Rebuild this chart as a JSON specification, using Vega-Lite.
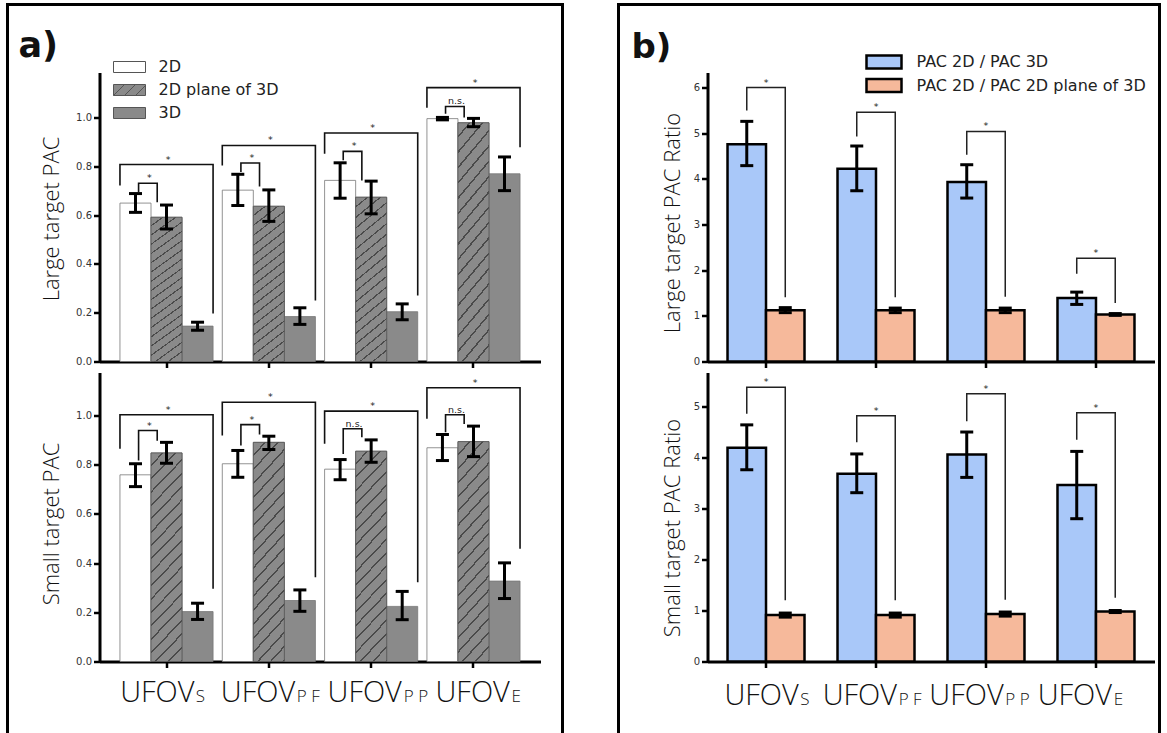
{
  "$schema": "https://vega.github.io/schema/vega-lite/v6.json",
  "background": "white",
  "padding": {"left": 5.5, "top": 2.5, "right": 0, "bottom": 0},
  "spacing": 52,
  "datasets": {
    "a_bars": [
      {"plot": "top", "grp": "S", "cond": "2D", "v": 0.649, "lo": 0.611, "hi": 0.688},
      {"plot": "top", "grp": "S", "cond": "2D plane of 3D", "v": 0.591, "lo": 0.543, "hi": 0.641},
      {"plot": "top", "grp": "S", "cond": "3D", "v": 0.145, "lo": 0.128, "hi": 0.161},
      {"plot": "top", "grp": "PF", "cond": "2D", "v": 0.702, "lo": 0.639, "hi": 0.767},
      {"plot": "top", "grp": "PF", "cond": "2D plane of 3D", "v": 0.636, "lo": 0.574, "hi": 0.703},
      {"plot": "top", "grp": "PF", "cond": "3D", "v": 0.184, "lo": 0.152, "hi": 0.22},
      {"plot": "top", "grp": "PP", "cond": "2D", "v": 0.742, "lo": 0.669, "hi": 0.814},
      {"plot": "top", "grp": "PP", "cond": "2D plane of 3D", "v": 0.673, "lo": 0.605, "hi": 0.739},
      {"plot": "top", "grp": "PP", "cond": "3D", "v": 0.204, "lo": 0.171, "hi": 0.236},
      {"plot": "top", "grp": "E", "cond": "2D", "v": 0.995, "lo": 0.99, "hi": 1.0},
      {"plot": "top", "grp": "E", "cond": "2D plane of 3D", "v": 0.978, "lo": 0.962, "hi": 0.996},
      {"plot": "top", "grp": "E", "cond": "3D", "v": 0.769, "lo": 0.7, "hi": 0.838},
      {"plot": "bot", "grp": "S", "cond": "2D", "v": 0.759, "lo": 0.711, "hi": 0.804},
      {"plot": "bot", "grp": "S", "cond": "2D plane of 3D", "v": 0.848, "lo": 0.806, "hi": 0.891},
      {"plot": "bot", "grp": "S", "cond": "3D", "v": 0.203, "lo": 0.171, "hi": 0.237},
      {"plot": "bot", "grp": "PF", "cond": "2D", "v": 0.804, "lo": 0.749, "hi": 0.858},
      {"plot": "bot", "grp": "PF", "cond": "2D plane of 3D", "v": 0.891, "lo": 0.862, "hi": 0.916},
      {"plot": "bot", "grp": "PF", "cond": "3D", "v": 0.248, "lo": 0.204, "hi": 0.291},
      {"plot": "bot", "grp": "PP", "cond": "2D", "v": 0.782, "lo": 0.739, "hi": 0.821},
      {"plot": "bot", "grp": "PP", "cond": "2D plane of 3D", "v": 0.855, "lo": 0.81, "hi": 0.901},
      {"plot": "bot", "grp": "PP", "cond": "3D", "v": 0.224, "lo": 0.17, "hi": 0.285},
      {"plot": "bot", "grp": "E", "cond": "2D", "v": 0.869, "lo": 0.817, "hi": 0.923},
      {"plot": "bot", "grp": "E", "cond": "2D plane of 3D", "v": 0.894, "lo": 0.833, "hi": 0.957},
      {"plot": "bot", "grp": "E", "cond": "3D", "v": 0.327, "lo": 0.256, "hi": 0.401}
    ],
    "a_br": [
      {"plot": "top", "id": "tSi", "grp": "S", "slot": "2Db", "pt": 1, "y": 0.693},
      {"plot": "top", "id": "tSi", "grp": "S", "slot": "2Db", "pt": 2, "y": 0.73},
      {"plot": "top", "id": "tSi", "grp": "S", "slot": "Pa", "pt": 3, "y": 0.73},
      {"plot": "top", "id": "tSi", "grp": "S", "slot": "Pa", "pt": 4, "y": 0.652},
      {"plot": "top", "id": "tSo", "grp": "S", "slot": "2Da", "pt": 1, "y": 0.721},
      {"plot": "top", "id": "tSo", "grp": "S", "slot": "2Da", "pt": 2, "y": 0.807},
      {"plot": "top", "id": "tSo", "grp": "S", "slot": "3Db", "pt": 3, "y": 0.807},
      {"plot": "top", "id": "tSo", "grp": "S", "slot": "3Db", "pt": 4, "y": 0.197},
      {"plot": "top", "id": "tFi", "grp": "PF", "slot": "2Db", "pt": 1, "y": 0.776},
      {"plot": "top", "id": "tFi", "grp": "PF", "slot": "2Db", "pt": 2, "y": 0.813},
      {"plot": "top", "id": "tFi", "grp": "PF", "slot": "Pa", "pt": 3, "y": 0.813},
      {"plot": "top", "id": "tFi", "grp": "PF", "slot": "Pa", "pt": 4, "y": 0.717},
      {"plot": "top", "id": "tFo", "grp": "PF", "slot": "2Da", "pt": 1, "y": 0.803},
      {"plot": "top", "id": "tFo", "grp": "PF", "slot": "2Da", "pt": 2, "y": 0.885},
      {"plot": "top", "id": "tFo", "grp": "PF", "slot": "3Db", "pt": 3, "y": 0.885},
      {"plot": "top", "id": "tFo", "grp": "PF", "slot": "3Db", "pt": 4, "y": 0.25},
      {"plot": "top", "id": "tPi", "grp": "PP", "slot": "2Db", "pt": 1, "y": 0.824},
      {"plot": "top", "id": "tPi", "grp": "PP", "slot": "2Db", "pt": 2, "y": 0.861},
      {"plot": "top", "id": "tPi", "grp": "PP", "slot": "Pa", "pt": 3, "y": 0.861},
      {"plot": "top", "id": "tPi", "grp": "PP", "slot": "Pa", "pt": 4, "y": 0.742},
      {"plot": "top", "id": "tPo", "grp": "PP", "slot": "2Da", "pt": 1, "y": 0.851},
      {"plot": "top", "id": "tPo", "grp": "PP", "slot": "2Da", "pt": 2, "y": 0.936},
      {"plot": "top", "id": "tPo", "grp": "PP", "slot": "3Db", "pt": 3, "y": 0.936},
      {"plot": "top", "id": "tPo", "grp": "PP", "slot": "3Db", "pt": 4, "y": 0.27},
      {"plot": "top", "id": "tEi", "grp": "E", "slot": "2Db", "pt": 1, "y": 1.015},
      {"plot": "top", "id": "tEi", "grp": "E", "slot": "2Db", "pt": 2, "y": 1.045},
      {"plot": "top", "id": "tEi", "grp": "E", "slot": "Pa", "pt": 3, "y": 1.045},
      {"plot": "top", "id": "tEi", "grp": "E", "slot": "Pa", "pt": 4, "y": 1.0},
      {"plot": "top", "id": "tEo", "grp": "E", "slot": "2Da", "pt": 1, "y": 1.04},
      {"plot": "top", "id": "tEo", "grp": "E", "slot": "2Da", "pt": 2, "y": 1.122},
      {"plot": "top", "id": "tEo", "grp": "E", "slot": "3Db", "pt": 3, "y": 1.122},
      {"plot": "top", "id": "tEo", "grp": "E", "slot": "3Db", "pt": 4, "y": 0.878},
      {"plot": "bot", "id": "bSi", "grp": "S", "slot": "2Db", "pt": 1, "y": 0.817},
      {"plot": "bot", "id": "bSi", "grp": "S", "slot": "2Db", "pt": 2, "y": 0.939},
      {"plot": "bot", "id": "bSi", "grp": "S", "slot": "Pa", "pt": 3, "y": 0.939},
      {"plot": "bot", "id": "bSi", "grp": "S", "slot": "Pa", "pt": 4, "y": 0.898},
      {"plot": "bot", "id": "bSo", "grp": "S", "slot": "2Da", "pt": 1, "y": 0.865},
      {"plot": "bot", "id": "bSo", "grp": "S", "slot": "2Da", "pt": 2, "y": 1.003},
      {"plot": "bot", "id": "bSo", "grp": "S", "slot": "3Db", "pt": 3, "y": 1.003},
      {"plot": "bot", "id": "bSo", "grp": "S", "slot": "3Db", "pt": 4, "y": 0.296},
      {"plot": "bot", "id": "bFi", "grp": "PF", "slot": "2Db", "pt": 1, "y": 0.878},
      {"plot": "bot", "id": "bFi", "grp": "PF", "slot": "2Db", "pt": 2, "y": 0.963},
      {"plot": "bot", "id": "bFi", "grp": "PF", "slot": "Pa", "pt": 3, "y": 0.963},
      {"plot": "bot", "id": "bFi", "grp": "PF", "slot": "Pa", "pt": 4, "y": 0.923},
      {"plot": "bot", "id": "bFo", "grp": "PF", "slot": "2Da", "pt": 1, "y": 0.919},
      {"plot": "bot", "id": "bFo", "grp": "PF", "slot": "2Da", "pt": 2, "y": 1.054},
      {"plot": "bot", "id": "bFo", "grp": "PF", "slot": "3Db", "pt": 3, "y": 1.054},
      {"plot": "bot", "id": "bFo", "grp": "PF", "slot": "3Db", "pt": 4, "y": 0.343},
      {"plot": "bot", "id": "bPi", "grp": "PP", "slot": "2Db", "pt": 1, "y": 0.844},
      {"plot": "bot", "id": "bPi", "grp": "PP", "slot": "2Db", "pt": 2, "y": 0.946},
      {"plot": "bot", "id": "bPi", "grp": "PP", "slot": "Pa", "pt": 3, "y": 0.946},
      {"plot": "bot", "id": "bPi", "grp": "PP", "slot": "Pa", "pt": 4, "y": 0.912},
      {"plot": "bot", "id": "bPo", "grp": "PP", "slot": "2Da", "pt": 1, "y": 0.885},
      {"plot": "bot", "id": "bPo", "grp": "PP", "slot": "2Da", "pt": 2, "y": 1.018},
      {"plot": "bot", "id": "bPo", "grp": "PP", "slot": "3Db", "pt": 3, "y": 1.018},
      {"plot": "bot", "id": "bPo", "grp": "PP", "slot": "3Db", "pt": 4, "y": 0.322},
      {"plot": "bot", "id": "bEi", "grp": "E", "slot": "2Db", "pt": 1, "y": 0.932},
      {"plot": "bot", "id": "bEi", "grp": "E", "slot": "2Db", "pt": 2, "y": 1.003},
      {"plot": "bot", "id": "bEi", "grp": "E", "slot": "Pa", "pt": 3, "y": 1.003},
      {"plot": "bot", "id": "bEi", "grp": "E", "slot": "Pa", "pt": 4, "y": 0.966},
      {"plot": "bot", "id": "bEo", "grp": "E", "slot": "2Da", "pt": 1, "y": 0.987},
      {"plot": "bot", "id": "bEo", "grp": "E", "slot": "2Da", "pt": 2, "y": 1.113},
      {"plot": "bot", "id": "bEo", "grp": "E", "slot": "3Db", "pt": 3, "y": 1.113},
      {"plot": "bot", "id": "bEo", "grp": "E", "slot": "3Db", "pt": 4, "y": 0.458}
    ],
    "a_lab": [
      {"plot": "top", "grp": "S", "slot": "Pa", "y": 0.73, "lab": "*"},
      {"plot": "top", "grp": "S", "slot": "Pb", "y": 0.807, "lab": "*"},
      {"plot": "top", "grp": "PF", "slot": "Pa", "y": 0.813, "lab": "*"},
      {"plot": "top", "grp": "PF", "slot": "Pb", "y": 0.885, "lab": "*"},
      {"plot": "top", "grp": "PP", "slot": "Pa", "y": 0.861, "lab": "*"},
      {"plot": "top", "grp": "PP", "slot": "Pb", "y": 0.936, "lab": "*"},
      {"plot": "top", "grp": "E", "slot": "Pa", "y": 1.045, "lab": "n.s."},
      {"plot": "top", "grp": "E", "slot": "Pb", "y": 1.122, "lab": "*"},
      {"plot": "bot", "grp": "S", "slot": "Pa", "y": 0.939, "lab": "*"},
      {"plot": "bot", "grp": "S", "slot": "Pb", "y": 1.003, "lab": "*"},
      {"plot": "bot", "grp": "PF", "slot": "Pa", "y": 0.963, "lab": "*"},
      {"plot": "bot", "grp": "PF", "slot": "Pb", "y": 1.054, "lab": "*"},
      {"plot": "bot", "grp": "PP", "slot": "Pa", "y": 0.946, "lab": "n.s."},
      {"plot": "bot", "grp": "PP", "slot": "Pb", "y": 1.018, "lab": "*"},
      {"plot": "bot", "grp": "E", "slot": "Pa", "y": 1.003, "lab": "n.s."},
      {"plot": "bot", "grp": "E", "slot": "Pb", "y": 1.113, "lab": "*"}
    ],
    "b_bars": [
      {"plot": "top", "grp": "S", "cond": "PAC 2D / PAC 3D", "v": 4.76, "lo": 4.29, "hi": 5.26},
      {"plot": "top", "grp": "S", "cond": "PAC 2D / PAC 2D plane of 3D", "v": 1.12, "lo": 1.07, "hi": 1.18},
      {"plot": "top", "grp": "PF", "cond": "PAC 2D / PAC 3D", "v": 4.22, "lo": 3.74, "hi": 4.72},
      {"plot": "top", "grp": "PF", "cond": "PAC 2D / PAC 2D plane of 3D", "v": 1.12, "lo": 1.07, "hi": 1.17},
      {"plot": "top", "grp": "PP", "cond": "PAC 2D / PAC 3D", "v": 3.93, "lo": 3.58, "hi": 4.31},
      {"plot": "top", "grp": "PP", "cond": "PAC 2D / PAC 2D plane of 3D", "v": 1.12, "lo": 1.07, "hi": 1.17},
      {"plot": "top", "grp": "E", "cond": "PAC 2D / PAC 3D", "v": 1.39, "lo": 1.25, "hi": 1.52},
      {"plot": "top", "grp": "E", "cond": "PAC 2D / PAC 2D plane of 3D", "v": 1.03, "lo": 1.01, "hi": 1.05},
      {"plot": "bot", "grp": "S", "cond": "PAC 2D / PAC 3D", "v": 4.19, "lo": 3.76, "hi": 4.64},
      {"plot": "bot", "grp": "S", "cond": "PAC 2D / PAC 2D plane of 3D", "v": 0.91, "lo": 0.87, "hi": 0.95},
      {"plot": "bot", "grp": "PF", "cond": "PAC 2D / PAC 3D", "v": 3.68, "lo": 3.31, "hi": 4.07},
      {"plot": "bot", "grp": "PF", "cond": "PAC 2D / PAC 2D plane of 3D", "v": 0.91, "lo": 0.87, "hi": 0.95},
      {"plot": "bot", "grp": "PP", "cond": "PAC 2D / PAC 3D", "v": 4.06, "lo": 3.61, "hi": 4.5},
      {"plot": "bot", "grp": "PP", "cond": "PAC 2D / PAC 2D plane of 3D", "v": 0.93, "lo": 0.89, "hi": 0.97},
      {"plot": "bot", "grp": "E", "cond": "PAC 2D / PAC 3D", "v": 3.46, "lo": 2.8, "hi": 4.12},
      {"plot": "bot", "grp": "E", "cond": "PAC 2D / PAC 2D plane of 3D", "v": 0.98, "lo": 0.96, "hi": 1.0}
    ],
    "b_br": [
      {"plot": "top", "id": "tS", "grp": "S", "cond": "PAC 2D / PAC 3D", "pt": 1, "y": 5.5},
      {"plot": "top", "id": "tS", "grp": "S", "cond": "PAC 2D / PAC 3D", "pt": 2, "y": 6.0},
      {"plot": "top", "id": "tS", "grp": "S", "cond": "PAC 2D / PAC 2D plane of 3D", "pt": 3, "y": 6.0},
      {"plot": "top", "id": "tS", "grp": "S", "cond": "PAC 2D / PAC 2D plane of 3D", "pt": 4, "y": 1.41},
      {"plot": "top", "id": "tF", "grp": "PF", "cond": "PAC 2D / PAC 3D", "pt": 1, "y": 4.93},
      {"plot": "top", "id": "tF", "grp": "PF", "cond": "PAC 2D / PAC 3D", "pt": 2, "y": 5.46},
      {"plot": "top", "id": "tF", "grp": "PF", "cond": "PAC 2D / PAC 2D plane of 3D", "pt": 3, "y": 5.46},
      {"plot": "top", "id": "tF", "grp": "PF", "cond": "PAC 2D / PAC 2D plane of 3D", "pt": 4, "y": 1.41},
      {"plot": "top", "id": "tP", "grp": "PP", "cond": "PAC 2D / PAC 3D", "pt": 1, "y": 4.53},
      {"plot": "top", "id": "tP", "grp": "PP", "cond": "PAC 2D / PAC 3D", "pt": 2, "y": 5.04},
      {"plot": "top", "id": "tP", "grp": "PP", "cond": "PAC 2D / PAC 2D plane of 3D", "pt": 3, "y": 5.04},
      {"plot": "top", "id": "tP", "grp": "PP", "cond": "PAC 2D / PAC 2D plane of 3D", "pt": 4, "y": 1.42},
      {"plot": "top", "id": "tE", "grp": "E", "cond": "PAC 2D / PAC 3D", "pt": 1, "y": 1.92},
      {"plot": "top", "id": "tE", "grp": "E", "cond": "PAC 2D / PAC 3D", "pt": 2, "y": 2.26},
      {"plot": "top", "id": "tE", "grp": "E", "cond": "PAC 2D / PAC 2D plane of 3D", "pt": 3, "y": 2.26},
      {"plot": "top", "id": "tE", "grp": "E", "cond": "PAC 2D / PAC 2D plane of 3D", "pt": 4, "y": 1.28},
      {"plot": "bot", "id": "bS", "grp": "S", "cond": "PAC 2D / PAC 3D", "pt": 1, "y": 4.86},
      {"plot": "bot", "id": "bS", "grp": "S", "cond": "PAC 2D / PAC 3D", "pt": 2, "y": 5.38},
      {"plot": "bot", "id": "bS", "grp": "S", "cond": "PAC 2D / PAC 2D plane of 3D", "pt": 3, "y": 5.38},
      {"plot": "bot", "id": "bS", "grp": "S", "cond": "PAC 2D / PAC 2D plane of 3D", "pt": 4, "y": 1.2},
      {"plot": "bot", "id": "bF", "grp": "PF", "cond": "PAC 2D / PAC 3D", "pt": 1, "y": 4.3},
      {"plot": "bot", "id": "bF", "grp": "PF", "cond": "PAC 2D / PAC 3D", "pt": 2, "y": 4.82},
      {"plot": "bot", "id": "bF", "grp": "PF", "cond": "PAC 2D / PAC 2D plane of 3D", "pt": 3, "y": 4.82},
      {"plot": "bot", "id": "bF", "grp": "PF", "cond": "PAC 2D / PAC 2D plane of 3D", "pt": 4, "y": 1.2},
      {"plot": "bot", "id": "bP", "grp": "PP", "cond": "PAC 2D / PAC 3D", "pt": 1, "y": 4.71},
      {"plot": "bot", "id": "bP", "grp": "PP", "cond": "PAC 2D / PAC 3D", "pt": 2, "y": 5.25},
      {"plot": "bot", "id": "bP", "grp": "PP", "cond": "PAC 2D / PAC 2D plane of 3D", "pt": 3, "y": 5.25},
      {"plot": "bot", "id": "bP", "grp": "PP", "cond": "PAC 2D / PAC 2D plane of 3D", "pt": 4, "y": 1.21},
      {"plot": "bot", "id": "bE", "grp": "E", "cond": "PAC 2D / PAC 3D", "pt": 1, "y": 4.35},
      {"plot": "bot", "id": "bE", "grp": "E", "cond": "PAC 2D / PAC 3D", "pt": 2, "y": 4.88},
      {"plot": "bot", "id": "bE", "grp": "E", "cond": "PAC 2D / PAC 2D plane of 3D", "pt": 3, "y": 4.88},
      {"plot": "bot", "id": "bE", "grp": "E", "cond": "PAC 2D / PAC 2D plane of 3D", "pt": 4, "y": 1.25}
    ],
    "b_lab": [
      {"plot": "top", "grp": "S", "y": 6.0, "lab": "*"},
      {"plot": "top", "grp": "PF", "y": 5.46, "lab": "*"},
      {"plot": "top", "grp": "PP", "y": 5.04, "lab": "*"},
      {"plot": "top", "grp": "E", "y": 2.26, "lab": "*"},
      {"plot": "bot", "grp": "S", "y": 5.38, "lab": "*"},
      {"plot": "bot", "grp": "PF", "y": 4.82, "lab": "*"},
      {"plot": "bot", "grp": "PP", "y": 5.25, "lab": "*"},
      {"plot": "bot", "grp": "E", "y": 4.88, "lab": "*"}
    ]
  },
  "hconcat": [
    {
      "width": 555,
      "height": 730,
      "title": {"text": "a)", "anchor": "start", "frame": "group", "orient": "top", "offset": 0, "dx": 11, "dy": 87.5, "baseline": "alphabetic", "font": "DejaVu Sans", "fontSize": 35, "fontWeight": "bold", "color": "#111"},
      "layer": [
        {
          "layer": [
            {
              "data": {"name": "a_bars"},
              "transform": [{"filter": "datum.plot == 'top'"}],
              "mark": {"type": "bar", "stroke": "#777", "strokeWidth": 0.8},
              "encoding": {
                "x": {"field": "grp", "type": "nominal", "sort": null, "scale": {"domain": ["S", "PF", "PP", "E"], "range": [92, 533], "paddingInner": 0.09, "paddingOuter": 0.2}, "axis": {"labels": false, "ticks": true, "domain": true, "title": null, "orient": "bottom", "offset": -373}},
                "xOffset": {"field": "cond", "type": "nominal", "scale": {"domain": ["2D", "2D plane of 3D", "3D"], "paddingInner": 0, "paddingOuter": 0}},
                "y": {"field": "v", "type": "quantitative", "scale": {"domain": [0, 1.184], "range": [357, 68], "nice": false, "zero": false}, "axis": {"orient": "left", "offset": -92, "values": [0, 0.2, 0.4, 0.6, 0.8, 1], "format": ".1f", "title": "Large target PAC", "titleX": -48, "titleY": 214, "titleAngle": 270, "titleAlign": "center", "titleBaseline": "middle", "titleFont": "Open Sans", "titleFontWeight": 300, "titleFontSize": 22, "titleColor": "#111"}},
                "color": {"field": "cond", "type": "nominal", "scale": {"domain": ["2D", "2D plane of 3D", "3D"], "range": ["#ffffff", "#8a8a8a", "#8a8a8a"]}, "legend": {"title": null, "orient": "none", "legendX": 111.5, "legendY": 52, "symbolType": "M-1.6,-0.55H1.6V0.55H-1.6Z", "symbolSize": 400, "symbolStrokeColor": "#555", "symbolStrokeWidth": 1, "symbolOpacity": 1, "labelFont": "DejaVu Sans", "labelFontSize": 16, "labelColor": "#222", "labelOffset": 18.5, "labelLimit": 0, "rowPadding": 4, "padding": 0, "encode": {"symbols": {"update": {"shape": {"signal": "datum.value === '2D plane of 3D' ? 'M-1.6,-0.55H1.6V0.55H-1.6Z M-1.6,0.55L-0.5,-0.55 M-0.5,0.55L0.6,-0.55 M0.6,0.55L1.6,-0.45' : 'M-1.6,-0.55H1.6V0.55H-1.6Z'"}}}}}}
              }
            },
            {
              "data": {"name": "a_bars"},
              "transform": [{"filter": "datum.plot == 'top' && datum.cond == '2D plane of 3D'"}],
              "mark": {"type": "bar", "stroke": "#555", "strokeWidth": 0.8, "fill": {"gradient": "linear", "x1": 0, "y1": 0, "x2": 0.175, "y2": 1.128, "stops": [{"offset": 0, "color": "#8a8a8a"}, {"offset": 0.04722, "color": "#8a8a8a"}, {"offset": 0.04722, "color": "#4a4a4a"}, {"offset": 0.05556, "color": "#4a4a4a"}, {"offset": 0.05556, "color": "#8a8a8a"}, {"offset": 0.10278, "color": "#8a8a8a"}, {"offset": 0.10278, "color": "#4a4a4a"}, {"offset": 0.11111, "color": "#4a4a4a"}, {"offset": 0.11111, "color": "#8a8a8a"}, {"offset": 0.15833, "color": "#8a8a8a"}, {"offset": 0.15833, "color": "#4a4a4a"}, {"offset": 0.16667, "color": "#4a4a4a"}, {"offset": 0.16667, "color": "#8a8a8a"}, {"offset": 0.21389, "color": "#8a8a8a"}, {"offset": 0.21389, "color": "#4a4a4a"}, {"offset": 0.22222, "color": "#4a4a4a"}, {"offset": 0.22222, "color": "#8a8a8a"}, {"offset": 0.26944, "color": "#8a8a8a"}, {"offset": 0.26944, "color": "#4a4a4a"}, {"offset": 0.27778, "color": "#4a4a4a"}, {"offset": 0.27778, "color": "#8a8a8a"}, {"offset": 0.325, "color": "#8a8a8a"}, {"offset": 0.325, "color": "#4a4a4a"}, {"offset": 0.33333, "color": "#4a4a4a"}, {"offset": 0.33333, "color": "#8a8a8a"}, {"offset": 0.38056, "color": "#8a8a8a"}, {"offset": 0.38056, "color": "#4a4a4a"}, {"offset": 0.38889, "color": "#4a4a4a"}, {"offset": 0.38889, "color": "#8a8a8a"}, {"offset": 0.43611, "color": "#8a8a8a"}, {"offset": 0.43611, "color": "#4a4a4a"}, {"offset": 0.44444, "color": "#4a4a4a"}, {"offset": 0.44444, "color": "#8a8a8a"}, {"offset": 0.49167, "color": "#8a8a8a"}, {"offset": 0.49167, "color": "#4a4a4a"}, {"offset": 0.5, "color": "#4a4a4a"}, {"offset": 0.5, "color": "#8a8a8a"}, {"offset": 0.54722, "color": "#8a8a8a"}, {"offset": 0.54722, "color": "#4a4a4a"}, {"offset": 0.55556, "color": "#4a4a4a"}, {"offset": 0.55556, "color": "#8a8a8a"}, {"offset": 0.60278, "color": "#8a8a8a"}, {"offset": 0.60278, "color": "#4a4a4a"}, {"offset": 0.61111, "color": "#4a4a4a"}, {"offset": 0.61111, "color": "#8a8a8a"}, {"offset": 0.65833, "color": "#8a8a8a"}, {"offset": 0.65833, "color": "#4a4a4a"}, {"offset": 0.66667, "color": "#4a4a4a"}, {"offset": 0.66667, "color": "#8a8a8a"}, {"offset": 0.71389, "color": "#8a8a8a"}, {"offset": 0.71389, "color": "#4a4a4a"}, {"offset": 0.72222, "color": "#4a4a4a"}, {"offset": 0.72222, "color": "#8a8a8a"}, {"offset": 0.76944, "color": "#8a8a8a"}, {"offset": 0.76944, "color": "#4a4a4a"}, {"offset": 0.77778, "color": "#4a4a4a"}, {"offset": 0.77778, "color": "#8a8a8a"}, {"offset": 0.825, "color": "#8a8a8a"}, {"offset": 0.825, "color": "#4a4a4a"}, {"offset": 0.83333, "color": "#4a4a4a"}, {"offset": 0.83333, "color": "#8a8a8a"}, {"offset": 0.88056, "color": "#8a8a8a"}, {"offset": 0.88056, "color": "#4a4a4a"}, {"offset": 0.88889, "color": "#4a4a4a"}, {"offset": 0.88889, "color": "#8a8a8a"}, {"offset": 0.93611, "color": "#8a8a8a"}, {"offset": 0.93611, "color": "#4a4a4a"}, {"offset": 0.94444, "color": "#4a4a4a"}, {"offset": 0.94444, "color": "#8a8a8a"}, {"offset": 0.99167, "color": "#8a8a8a"}, {"offset": 0.99167, "color": "#4a4a4a"}, {"offset": 1, "color": "#4a4a4a"}]}},
              "encoding": {
                "x": {"field": "grp", "type": "nominal", "sort": null, "scale": {"domain": ["S", "PF", "PP", "E"], "range": [92, 533], "paddingInner": 0.09, "paddingOuter": 0.2}, "axis": null},
                "xOffset": {"field": "cond", "type": "nominal", "scale": {"domain": ["2D", "2D plane of 3D", "3D"], "paddingInner": 0, "paddingOuter": 0}},
                "y": {"field": "v", "type": "quantitative", "scale": {"domain": [0, 1.184], "range": [357, 68], "nice": false, "zero": false}, "axis": null}
              }
            },
            {
              "data": {"name": "a_bars"},
              "transform": [{"filter": "datum.plot == 'top'"}],
              "mark": {"type": "rule", "color": "black", "strokeWidth": 3},
              "encoding": {
                "x": {"field": "grp", "type": "nominal", "sort": null, "scale": {"domain": ["S", "PF", "PP", "E"], "range": [92, 533], "paddingInner": 0.09, "paddingOuter": 0.2}, "axis": null},
                "xOffset": {"field": "cond", "type": "nominal", "scale": {"domain": ["2D", "2D plane of 3D", "3D"], "paddingInner": 0, "paddingOuter": 0}},
                "y": {"field": "lo", "type": "quantitative", "scale": {"domain": [0, 1.184], "range": [357, 68], "nice": false, "zero": false}, "axis": null},
                "y2": {"field": "hi"}
              }
            },
            {
              "data": {"name": "a_bars"},
              "transform": [{"filter": "datum.plot == 'top'"}, {"fold": ["lo", "hi"], "as": ["end", "ev"]}],
              "mark": {"type": "tick", "orient": "horizontal", "color": "black", "size": 13, "thickness": 3, "opacity": 1},
              "encoding": {
                "x": {"field": "grp", "type": "nominal", "sort": null, "scale": {"domain": ["S", "PF", "PP", "E"], "range": [92, 533], "paddingInner": 0.09, "paddingOuter": 0.2}, "axis": null},
                "xOffset": {"field": "cond", "type": "nominal", "scale": {"domain": ["2D", "2D plane of 3D", "3D"], "paddingInner": 0, "paddingOuter": 0}},
                "y": {"field": "ev", "type": "quantitative", "scale": {"domain": [0, 1.184], "range": [357, 68], "nice": false, "zero": false}, "axis": null}
              }
            },
            {
              "data": {"name": "a_br"},
              "transform": [{"filter": "datum.plot == 'top'"}],
              "mark": {"type": "line", "color": "#111", "strokeWidth": 1.6},
              "encoding": {
                "x": {"field": "grp", "type": "nominal", "sort": null, "scale": {"domain": ["S", "PF", "PP", "E"], "range": [92, 533], "paddingInner": 0.09, "paddingOuter": 0.2}, "axis": null},
                "xOffset": {"field": "slot", "type": "nominal", "scale": {"domain": ["2Da", "2Db", "Pa", "Pb", "3Da", "3Db"], "paddingInner": 0, "paddingOuter": 0}},
                "y": {"field": "y", "type": "quantitative", "scale": {"domain": [0, 1.184], "range": [357, 68], "nice": false, "zero": false}, "axis": null},
                "detail": {"field": "id"},
                "order": {"field": "pt", "type": "quantitative"}
              }
            },
            {
              "data": {"name": "a_lab"},
              "transform": [{"filter": "datum.plot == 'top'"}],
              "mark": {"type": "text", "dx": -7.75, "dy": -2, "baseline": "alphabetic", "font": "DejaVu Sans", "fontSize": 9.5, "color": "#222"},
              "encoding": {
                "x": {"field": "grp", "type": "nominal", "sort": null, "scale": {"domain": ["S", "PF", "PP", "E"], "range": [92, 533], "paddingInner": 0.09, "paddingOuter": 0.2}, "axis": null},
                "xOffset": {"field": "slot", "type": "nominal", "scale": {"domain": ["2Da", "2Db", "Pa", "Pb", "3Da", "3Db"], "paddingInner": 0, "paddingOuter": 0}},
                "y": {"field": "y", "type": "quantitative", "scale": {"domain": [0, 1.184], "range": [357, 68], "nice": false, "zero": false}, "axis": null},
                "text": {"field": "lab"}
              }
            }
          ],
          "resolve": {"scale": {"xOffset": "independent"}, "axis": {"x": "independent", "y": "independent"}}
        },
        {
          "layer": [
            {
              "data": {"name": "a_bars"},
              "transform": [{"filter": "datum.plot == 'bot'"}],
              "mark": {"type": "bar", "stroke": "#777", "strokeWidth": 0.8},
              "encoding": {
                "x": {"field": "grp", "type": "nominal", "sort": null, "scale": {"domain": ["S", "PF", "PP", "E"], "range": [92, 533], "paddingInner": 0.09, "paddingOuter": 0.2}, "axis": {"title": null, "orient": "bottom", "offset": -73, "labelExpr": "'UFOV'", "labelFont": "Open Sans", "labelFontWeight": 300, "labelFontSize": 29, "labelColor": "#111", "labelAlign": "right", "labelBaseline": "alphabetic", "labelPadding": 33.7, "labelAngle": 0, "labelOverlap": false, "labelOffset": {"condition": [{"test": "datum.value == 'S'", "value": 28}, {"test": "datum.value == 'PF'", "value": 26.3}, {"test": "datum.value == 'PP'", "value": 30.7}], "value": 36.3}}},
                "xOffset": {"field": "cond", "type": "nominal", "scale": {"domain": ["2D", "2D plane of 3D", "3D"], "paddingInner": 0, "paddingOuter": 0}},
                "y": {"field": "v", "type": "quantitative", "scale": {"domain": [0, 1.175], "range": [657, 368], "nice": false, "zero": false}, "axis": {"orient": "left", "offset": -92, "values": [0, 0.2, 0.4, 0.6, 0.8, 1], "format": ".1f", "title": "Small target PAC", "titleX": -48, "titleY": 519, "titleAngle": 270, "titleAlign": "center", "titleBaseline": "middle", "titleFont": "Open Sans", "titleFontWeight": 300, "titleFontSize": 22, "titleColor": "#111"}},
                "color": {"field": "cond", "type": "nominal", "scale": {"domain": ["2D", "2D plane of 3D", "3D"], "range": ["#ffffff", "#8a8a8a", "#8a8a8a"]}, "legend": {"title": null, "orient": "none", "legendX": 111.5, "legendY": 52, "symbolType": "M-1.6,-0.55H1.6V0.55H-1.6Z", "symbolSize": 400, "symbolStrokeColor": "#555", "symbolStrokeWidth": 1, "symbolOpacity": 1, "labelFont": "DejaVu Sans", "labelFontSize": 16, "labelColor": "#222", "labelOffset": 18.5, "labelLimit": 0, "rowPadding": 4, "padding": 0, "encode": {"symbols": {"update": {"shape": {"signal": "datum.value === '2D plane of 3D' ? 'M-1.6,-0.55H1.6V0.55H-1.6Z M-1.6,0.55L-0.5,-0.55 M-0.5,0.55L0.6,-0.55 M0.6,0.55L1.6,-0.45' : 'M-1.6,-0.55H1.6V0.55H-1.6Z'"}}}}}}
              }
            },
            {
              "data": {"name": "a_bars"},
              "transform": [{"filter": "datum.plot == 'bot' && datum.cond == '2D plane of 3D'"}],
              "mark": {"type": "bar", "stroke": "#555", "strokeWidth": 0.8, "fill": {"gradient": "linear", "x1": 0, "y1": 0, "x2": 0.175, "y2": 1.128, "stops": [{"offset": 0, "color": "#8a8a8a"}, {"offset": 0.04722, "color": "#8a8a8a"}, {"offset": 0.04722, "color": "#4a4a4a"}, {"offset": 0.05556, "color": "#4a4a4a"}, {"offset": 0.05556, "color": "#8a8a8a"}, {"offset": 0.10278, "color": "#8a8a8a"}, {"offset": 0.10278, "color": "#4a4a4a"}, {"offset": 0.11111, "color": "#4a4a4a"}, {"offset": 0.11111, "color": "#8a8a8a"}, {"offset": 0.15833, "color": "#8a8a8a"}, {"offset": 0.15833, "color": "#4a4a4a"}, {"offset": 0.16667, "color": "#4a4a4a"}, {"offset": 0.16667, "color": "#8a8a8a"}, {"offset": 0.21389, "color": "#8a8a8a"}, {"offset": 0.21389, "color": "#4a4a4a"}, {"offset": 0.22222, "color": "#4a4a4a"}, {"offset": 0.22222, "color": "#8a8a8a"}, {"offset": 0.26944, "color": "#8a8a8a"}, {"offset": 0.26944, "color": "#4a4a4a"}, {"offset": 0.27778, "color": "#4a4a4a"}, {"offset": 0.27778, "color": "#8a8a8a"}, {"offset": 0.325, "color": "#8a8a8a"}, {"offset": 0.325, "color": "#4a4a4a"}, {"offset": 0.33333, "color": "#4a4a4a"}, {"offset": 0.33333, "color": "#8a8a8a"}, {"offset": 0.38056, "color": "#8a8a8a"}, {"offset": 0.38056, "color": "#4a4a4a"}, {"offset": 0.38889, "color": "#4a4a4a"}, {"offset": 0.38889, "color": "#8a8a8a"}, {"offset": 0.43611, "color": "#8a8a8a"}, {"offset": 0.43611, "color": "#4a4a4a"}, {"offset": 0.44444, "color": "#4a4a4a"}, {"offset": 0.44444, "color": "#8a8a8a"}, {"offset": 0.49167, "color": "#8a8a8a"}, {"offset": 0.49167, "color": "#4a4a4a"}, {"offset": 0.5, "color": "#4a4a4a"}, {"offset": 0.5, "color": "#8a8a8a"}, {"offset": 0.54722, "color": "#8a8a8a"}, {"offset": 0.54722, "color": "#4a4a4a"}, {"offset": 0.55556, "color": "#4a4a4a"}, {"offset": 0.55556, "color": "#8a8a8a"}, {"offset": 0.60278, "color": "#8a8a8a"}, {"offset": 0.60278, "color": "#4a4a4a"}, {"offset": 0.61111, "color": "#4a4a4a"}, {"offset": 0.61111, "color": "#8a8a8a"}, {"offset": 0.65833, "color": "#8a8a8a"}, {"offset": 0.65833, "color": "#4a4a4a"}, {"offset": 0.66667, "color": "#4a4a4a"}, {"offset": 0.66667, "color": "#8a8a8a"}, {"offset": 0.71389, "color": "#8a8a8a"}, {"offset": 0.71389, "color": "#4a4a4a"}, {"offset": 0.72222, "color": "#4a4a4a"}, {"offset": 0.72222, "color": "#8a8a8a"}, {"offset": 0.76944, "color": "#8a8a8a"}, {"offset": 0.76944, "color": "#4a4a4a"}, {"offset": 0.77778, "color": "#4a4a4a"}, {"offset": 0.77778, "color": "#8a8a8a"}, {"offset": 0.825, "color": "#8a8a8a"}, {"offset": 0.825, "color": "#4a4a4a"}, {"offset": 0.83333, "color": "#4a4a4a"}, {"offset": 0.83333, "color": "#8a8a8a"}, {"offset": 0.88056, "color": "#8a8a8a"}, {"offset": 0.88056, "color": "#4a4a4a"}, {"offset": 0.88889, "color": "#4a4a4a"}, {"offset": 0.88889, "color": "#8a8a8a"}, {"offset": 0.93611, "color": "#8a8a8a"}, {"offset": 0.93611, "color": "#4a4a4a"}, {"offset": 0.94444, "color": "#4a4a4a"}, {"offset": 0.94444, "color": "#8a8a8a"}, {"offset": 0.99167, "color": "#8a8a8a"}, {"offset": 0.99167, "color": "#4a4a4a"}, {"offset": 1, "color": "#4a4a4a"}]}},
              "encoding": {
                "x": {"field": "grp", "type": "nominal", "sort": null, "scale": {"domain": ["S", "PF", "PP", "E"], "range": [92, 533], "paddingInner": 0.09, "paddingOuter": 0.2}, "axis": null},
                "xOffset": {"field": "cond", "type": "nominal", "scale": {"domain": ["2D", "2D plane of 3D", "3D"], "paddingInner": 0, "paddingOuter": 0}},
                "y": {"field": "v", "type": "quantitative", "scale": {"domain": [0, 1.175], "range": [657, 368], "nice": false, "zero": false}, "axis": null}
              }
            },
            {
              "data": {"name": "a_bars"},
              "transform": [{"filter": "datum.plot == 'bot'"}],
              "mark": {"type": "rule", "color": "black", "strokeWidth": 3},
              "encoding": {
                "x": {"field": "grp", "type": "nominal", "sort": null, "scale": {"domain": ["S", "PF", "PP", "E"], "range": [92, 533], "paddingInner": 0.09, "paddingOuter": 0.2}, "axis": {"title": null, "orient": "bottom", "offset": -73, "domain": false, "ticks": true, "tickOpacity": 0, "labelExpr": "datum.value == 'PF' ? 'P F' : datum.value == 'PP' ? 'P P' : datum.value", "labelFont": "Open Sans", "labelFontWeight": 300, "labelFontSize": 17, "labelColor": "#111", "labelAlign": "left", "labelBaseline": "alphabetic", "labelPadding": 33.7, "labelAngle": 0, "labelOverlap": false, "labelOffset": {"condition": [{"test": "datum.value == 'S'", "value": 29.3}, {"test": "datum.value == 'PF'", "value": 28}, {"test": "datum.value == 'PP'", "value": 32.7}], "value": 38}}},
                "xOffset": {"field": "cond", "type": "nominal", "scale": {"domain": ["2D", "2D plane of 3D", "3D"], "paddingInner": 0, "paddingOuter": 0}},
                "y": {"field": "lo", "type": "quantitative", "scale": {"domain": [0, 1.175], "range": [657, 368], "nice": false, "zero": false}, "axis": null},
                "y2": {"field": "hi"}
              }
            },
            {
              "data": {"name": "a_bars"},
              "transform": [{"filter": "datum.plot == 'bot'"}, {"fold": ["lo", "hi"], "as": ["end", "ev"]}],
              "mark": {"type": "tick", "orient": "horizontal", "color": "black", "size": 13, "thickness": 3, "opacity": 1},
              "encoding": {
                "x": {"field": "grp", "type": "nominal", "sort": null, "scale": {"domain": ["S", "PF", "PP", "E"], "range": [92, 533], "paddingInner": 0.09, "paddingOuter": 0.2}, "axis": null},
                "xOffset": {"field": "cond", "type": "nominal", "scale": {"domain": ["2D", "2D plane of 3D", "3D"], "paddingInner": 0, "paddingOuter": 0}},
                "y": {"field": "ev", "type": "quantitative", "scale": {"domain": [0, 1.175], "range": [657, 368], "nice": false, "zero": false}, "axis": null}
              }
            },
            {
              "data": {"name": "a_br"},
              "transform": [{"filter": "datum.plot == 'bot'"}],
              "mark": {"type": "line", "color": "#111", "strokeWidth": 1.6},
              "encoding": {
                "x": {"field": "grp", "type": "nominal", "sort": null, "scale": {"domain": ["S", "PF", "PP", "E"], "range": [92, 533], "paddingInner": 0.09, "paddingOuter": 0.2}, "axis": null},
                "xOffset": {"field": "slot", "type": "nominal", "scale": {"domain": ["2Da", "2Db", "Pa", "Pb", "3Da", "3Db"], "paddingInner": 0, "paddingOuter": 0}},
                "y": {"field": "y", "type": "quantitative", "scale": {"domain": [0, 1.175], "range": [657, 368], "nice": false, "zero": false}, "axis": null},
                "detail": {"field": "id"},
                "order": {"field": "pt", "type": "quantitative"}
              }
            },
            {
              "data": {"name": "a_lab"},
              "transform": [{"filter": "datum.plot == 'bot'"}],
              "mark": {"type": "text", "dx": -7.75, "dy": -2, "baseline": "alphabetic", "font": "DejaVu Sans", "fontSize": 9.5, "color": "#222"},
              "encoding": {
                "x": {"field": "grp", "type": "nominal", "sort": null, "scale": {"domain": ["S", "PF", "PP", "E"], "range": [92, 533], "paddingInner": 0.09, "paddingOuter": 0.2}, "axis": null},
                "xOffset": {"field": "slot", "type": "nominal", "scale": {"domain": ["2Da", "2Db", "Pa", "Pb", "3Da", "3Db"], "paddingInner": 0, "paddingOuter": 0}},
                "y": {"field": "y", "type": "quantitative", "scale": {"domain": [0, 1.175], "range": [657, 368], "nice": false, "zero": false}, "axis": null},
                "text": {"field": "lab"}
              }
            }
          ],
          "resolve": {"scale": {"xOffset": "independent"}, "axis": {"x": "independent", "y": "independent"}}
        }
      ],
      "resolve": {"scale": {"y": "independent", "xOffset": "independent"}, "axis": {"x": "independent", "y": "independent"}}
    },
    {
      "width": 541,
      "height": 730,
      "title": {"text": "b)", "anchor": "start", "frame": "group", "orient": "top", "offset": 0, "dx": 13, "dy": 87.5, "baseline": "alphabetic", "font": "DejaVu Sans", "fontSize": 34, "fontWeight": "bold", "color": "#111"},
      "layer": [
        {
          "layer": [
            {
              "data": {"name": "b_bars"},
              "transform": [{"filter": "datum.plot == 'top'"}],
              "mark": {"type": "bar", "stroke": "black", "strokeWidth": 2.5},
              "encoding": {
                "x": {"field": "grp", "type": "nominal", "sort": null, "scale": {"domain": ["S", "PF", "PP", "E"], "range": [89, 536], "paddingInner": 0.3, "paddingOuter": 0.182}, "axis": {"labels": false, "ticks": true, "domain": true, "title": null, "orient": "bottom", "offset": -373}},
                "xOffset": {"field": "cond", "type": "nominal", "scale": {"domain": ["PAC 2D / PAC 3D", "PAC 2D / PAC 2D plane of 3D"], "paddingInner": 0, "paddingOuter": 0}},
                "y": {"field": "v", "type": "quantitative", "scale": {"domain": [0, 6.33], "range": [357, 68], "nice": false, "zero": false}, "axis": {"orient": "left", "offset": -89, "values": [0, 1, 2, 3, 4, 5, 6], "format": "d", "title": "Large target PAC Ratio", "titleX": -35.5, "titleY": 218, "titleAngle": 270, "titleAlign": "center", "titleBaseline": "middle", "titleFont": "Open Sans", "titleFontWeight": 300, "titleFontSize": 22, "titleColor": "#111"}},
                "color": {"field": "cond", "type": "nominal", "scale": {"domain": ["PAC 2D / PAC 3D", "PAC 2D / PAC 2D plane of 3D"], "range": ["#a9c8f9", "#f6b99b"]}, "legend": {"title": null, "orient": "none", "legendX": 254, "legendY": 46, "symbolType": "M-1.75,-0.65H1.75V0.65H-1.75Z", "symbolSize": 400, "symbolStrokeColor": "black", "symbolStrokeWidth": 2.5, "symbolOpacity": 1, "labelFont": "DejaVu Sans", "labelFontSize": 16, "labelColor": "#222", "labelOffset": 21, "labelLimit": 0, "rowPadding": 0.5, "padding": 0}}
              }
            },
            {
              "data": {"name": "b_bars"},
              "transform": [{"filter": "datum.plot == 'top'"}],
              "mark": {"type": "rule", "color": "black", "strokeWidth": 3},
              "encoding": {
                "x": {"field": "grp", "type": "nominal", "sort": null, "scale": {"domain": ["S", "PF", "PP", "E"], "range": [89, 536], "paddingInner": 0.3, "paddingOuter": 0.182}, "axis": null},
                "xOffset": {"field": "cond", "type": "nominal", "scale": {"domain": ["PAC 2D / PAC 3D", "PAC 2D / PAC 2D plane of 3D"], "paddingInner": 0, "paddingOuter": 0}},
                "y": {"field": "lo", "type": "quantitative", "scale": {"domain": [0, 6.33], "range": [357, 68], "nice": false, "zero": false}, "axis": null},
                "y2": {"field": "hi"}
              }
            },
            {
              "data": {"name": "b_bars"},
              "transform": [{"filter": "datum.plot == 'top'"}, {"fold": ["lo", "hi"], "as": ["end", "ev"]}],
              "mark": {"type": "tick", "orient": "horizontal", "color": "black", "size": 13, "thickness": 3, "opacity": 1},
              "encoding": {
                "x": {"field": "grp", "type": "nominal", "sort": null, "scale": {"domain": ["S", "PF", "PP", "E"], "range": [89, 536], "paddingInner": 0.3, "paddingOuter": 0.182}, "axis": null},
                "xOffset": {"field": "cond", "type": "nominal", "scale": {"domain": ["PAC 2D / PAC 3D", "PAC 2D / PAC 2D plane of 3D"], "paddingInner": 0, "paddingOuter": 0}},
                "y": {"field": "ev", "type": "quantitative", "scale": {"domain": [0, 6.33], "range": [357, 68], "nice": false, "zero": false}, "axis": null}
              }
            },
            {
              "data": {"name": "b_br"},
              "transform": [{"filter": "datum.plot == 'top'"}],
              "mark": {"type": "line", "color": "#222", "strokeWidth": 1.5},
              "encoding": {
                "x": {"field": "grp", "type": "nominal", "sort": null, "scale": {"domain": ["S", "PF", "PP", "E"], "range": [89, 536], "paddingInner": 0.3, "paddingOuter": 0.182}, "axis": null},
                "xOffset": {"field": "cond", "type": "nominal", "scale": {"domain": ["PAC 2D / PAC 3D", "PAC 2D / PAC 2D plane of 3D"], "paddingInner": 0, "paddingOuter": 0}},
                "y": {"field": "y", "type": "quantitative", "scale": {"domain": [0, 6.33], "range": [357, 68], "nice": false, "zero": false}, "axis": null},
                "detail": {"field": "id"},
                "order": {"field": "pt", "type": "quantitative"}
              }
            },
            {
              "data": {"name": "b_lab"},
              "transform": [{"filter": "datum.plot == 'top'"}],
              "mark": {"type": "text", "dy": -2, "baseline": "alphabetic", "font": "DejaVu Sans", "fontSize": 9.5, "color": "#222"},
              "encoding": {
                "x": {"field": "grp", "type": "nominal", "sort": null, "scale": {"domain": ["S", "PF", "PP", "E"], "range": [89, 536], "paddingInner": 0.3, "paddingOuter": 0.182}, "axis": null},
                "y": {"field": "y", "type": "quantitative", "scale": {"domain": [0, 6.33], "range": [357, 68], "nice": false, "zero": false}, "axis": null},
                "text": {"field": "lab"}
              }
            }
          ],
          "resolve": {"axis": {"x": "independent", "y": "independent"}}
        },
        {
          "layer": [
            {
              "data": {"name": "b_bars"},
              "transform": [{"filter": "datum.plot == 'bot'"}],
              "mark": {"type": "bar", "stroke": "black", "strokeWidth": 2.5},
              "encoding": {
                "x": {"field": "grp", "type": "nominal", "sort": null, "scale": {"domain": ["S", "PF", "PP", "E"], "range": [89, 536], "paddingInner": 0.3, "paddingOuter": 0.182}, "axis": {"title": null, "orient": "bottom", "offset": -73, "labelExpr": "'UFOV'", "labelFont": "Open Sans", "labelFontWeight": 300, "labelFontSize": 29, "labelColor": "#111", "labelAlign": "right", "labelBaseline": "alphabetic", "labelPadding": 37, "labelAngle": 0, "labelOverlap": false, "labelOffset": {"condition": [{"test": "datum.value == 'S'", "value": 32.7}, {"test": "datum.value == 'PF'", "value": 21}, {"test": "datum.value == 'PP'", "value": 17.7}], "value": 16}}},
                "xOffset": {"field": "cond", "type": "nominal", "scale": {"domain": ["PAC 2D / PAC 3D", "PAC 2D / PAC 2D plane of 3D"], "paddingInner": 0, "paddingOuter": 0}},
                "y": {"field": "v", "type": "quantitative", "scale": {"domain": [0, 5.667], "range": [657, 368], "nice": false, "zero": false}, "axis": {"orient": "left", "offset": -89, "values": [0, 1, 2, 3, 4, 5], "format": "d", "title": "Small target PAC Ratio", "titleX": -35.5, "titleY": 523, "titleAngle": 270, "titleAlign": "center", "titleBaseline": "middle", "titleFont": "Open Sans", "titleFontWeight": 300, "titleFontSize": 22, "titleColor": "#111"}},
                "color": {"field": "cond", "type": "nominal", "scale": {"domain": ["PAC 2D / PAC 3D", "PAC 2D / PAC 2D plane of 3D"], "range": ["#a9c8f9", "#f6b99b"]}, "legend": {"title": null, "orient": "none", "legendX": 254, "legendY": 46, "symbolType": "M-1.75,-0.65H1.75V0.65H-1.75Z", "symbolSize": 400, "symbolStrokeColor": "black", "symbolStrokeWidth": 2.5, "symbolOpacity": 1, "labelFont": "DejaVu Sans", "labelFontSize": 16, "labelColor": "#222", "labelOffset": 21, "labelLimit": 0, "rowPadding": 0.5, "padding": 0}}
              }
            },
            {
              "data": {"name": "b_bars"},
              "transform": [{"filter": "datum.plot == 'bot'"}],
              "mark": {"type": "rule", "color": "black", "strokeWidth": 3},
              "encoding": {
                "x": {"field": "grp", "type": "nominal", "sort": null, "scale": {"domain": ["S", "PF", "PP", "E"], "range": [89, 536], "paddingInner": 0.3, "paddingOuter": 0.182}, "axis": {"title": null, "orient": "bottom", "offset": -73, "domain": false, "ticks": true, "tickOpacity": 0, "labelExpr": "datum.value == 'PF' ? 'P F' : datum.value == 'PP' ? 'P P' : datum.value", "labelFont": "Open Sans", "labelFontWeight": 300, "labelFontSize": 17, "labelColor": "#111", "labelAlign": "left", "labelBaseline": "alphabetic", "labelPadding": 37, "labelAngle": 0, "labelOverlap": false, "labelOffset": {"condition": [{"test": "datum.value == 'S'", "value": 34.3}, {"test": "datum.value == 'PF'", "value": 22.7}, {"test": "datum.value == 'PP'", "value": 19.3}], "value": 17.7}}},
                "xOffset": {"field": "cond", "type": "nominal", "scale": {"domain": ["PAC 2D / PAC 3D", "PAC 2D / PAC 2D plane of 3D"], "paddingInner": 0, "paddingOuter": 0}},
                "y": {"field": "lo", "type": "quantitative", "scale": {"domain": [0, 5.667], "range": [657, 368], "nice": false, "zero": false}, "axis": null},
                "y2": {"field": "hi"}
              }
            },
            {
              "data": {"name": "b_bars"},
              "transform": [{"filter": "datum.plot == 'bot'"}, {"fold": ["lo", "hi"], "as": ["end", "ev"]}],
              "mark": {"type": "tick", "orient": "horizontal", "color": "black", "size": 13, "thickness": 3, "opacity": 1},
              "encoding": {
                "x": {"field": "grp", "type": "nominal", "sort": null, "scale": {"domain": ["S", "PF", "PP", "E"], "range": [89, 536], "paddingInner": 0.3, "paddingOuter": 0.182}, "axis": null},
                "xOffset": {"field": "cond", "type": "nominal", "scale": {"domain": ["PAC 2D / PAC 3D", "PAC 2D / PAC 2D plane of 3D"], "paddingInner": 0, "paddingOuter": 0}},
                "y": {"field": "ev", "type": "quantitative", "scale": {"domain": [0, 5.667], "range": [657, 368], "nice": false, "zero": false}, "axis": null}
              }
            },
            {
              "data": {"name": "b_br"},
              "transform": [{"filter": "datum.plot == 'bot'"}],
              "mark": {"type": "line", "color": "#222", "strokeWidth": 1.5},
              "encoding": {
                "x": {"field": "grp", "type": "nominal", "sort": null, "scale": {"domain": ["S", "PF", "PP", "E"], "range": [89, 536], "paddingInner": 0.3, "paddingOuter": 0.182}, "axis": null},
                "xOffset": {"field": "cond", "type": "nominal", "scale": {"domain": ["PAC 2D / PAC 3D", "PAC 2D / PAC 2D plane of 3D"], "paddingInner": 0, "paddingOuter": 0}},
                "y": {"field": "y", "type": "quantitative", "scale": {"domain": [0, 5.667], "range": [657, 368], "nice": false, "zero": false}, "axis": null},
                "detail": {"field": "id"},
                "order": {"field": "pt", "type": "quantitative"}
              }
            },
            {
              "data": {"name": "b_lab"},
              "transform": [{"filter": "datum.plot == 'bot'"}],
              "mark": {"type": "text", "dy": -2, "baseline": "alphabetic", "font": "DejaVu Sans", "fontSize": 9.5, "color": "#222"},
              "encoding": {
                "x": {"field": "grp", "type": "nominal", "sort": null, "scale": {"domain": ["S", "PF", "PP", "E"], "range": [89, 536], "paddingInner": 0.3, "paddingOuter": 0.182}, "axis": null},
                "y": {"field": "y", "type": "quantitative", "scale": {"domain": [0, 5.667], "range": [657, 368], "nice": false, "zero": false}, "axis": null},
                "text": {"field": "lab"}
              }
            }
          ],
          "resolve": {"axis": {"x": "independent", "y": "independent"}}
        }
      ],
      "resolve": {"scale": {"y": "independent"}, "axis": {"x": "independent", "y": "independent"}}
    }
  ],
  "resolve": {"scale": {"color": "independent", "x": "independent", "y": "independent", "xOffset": "independent"}, "legend": {"color": "independent"}},
  "config": {
    "view": {"stroke": "black", "strokeWidth": 3, "fill": "white"},
    "axis": {"grid": false, "domainColor": "black", "domainWidth": 3, "tickColor": "black", "tickWidth": 2.5, "tickSize": 6, "labelFont": "DejaVu Sans", "labelFontSize": 10, "labelColor": "#333", "labelPadding": 2}
  }
}
